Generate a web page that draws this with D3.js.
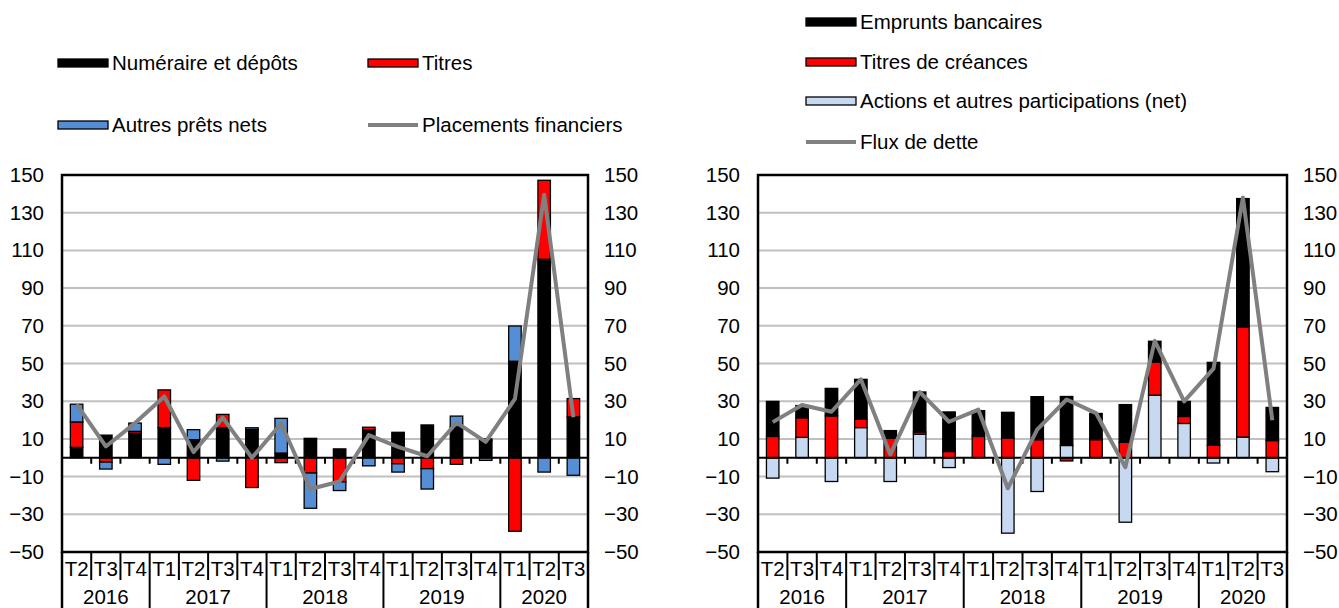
<!DOCTYPE html>
<html>
<head>
<meta charset="utf-8">
<script src="https://cdn.jsdelivr.net/npm/d3@7"></script>
<style>
  html, body { margin: 0; padding: 0; background: #fff; }
  svg { display: block; }
  text { font-family: "Liberation Sans", Arial, sans-serif; fill: #000; }
</style>
</head>
<body>
<svg id="chart" width="1339" height="608"></svg>
<script>
// Quarter labels and year groups along the category axis
const quarters = ["T2","T3","T4","T1","T2","T3","T4","T1","T2","T3","T4","T1","T2","T3","T4","T1","T2","T3"];
const years = ["2016","2017","2018","2019","2020"];
const yearSpans = [3, 4, 4, 4, 3];
const yTicks = [-50, -30, -10, 10, 30, 50, 70, 90, 110, 130, 150];

// Left panel: placements financiers
const numeraireDepots = [5.5, 12, 13, 16, 9.6, 16, 15, 2.5, 10.3, 4.7, 14.8, 13.5, 17.4, 16.4, 9, 51.2, 105.3, 21.7];
const titres = [13.5, -2.3, 1, 20, -12, 7, -15.8, -2.6, -8.1, -12.8, 1.4, -3.2, -5.8, -3.5, 1, -39, 41.9, 9.7];
const autresPrets = [9.4, -3.7, 4.4, -3.5, 5.3, -1.8, 0.9, 18.4, -18.7, -4.6, -4.3, -4.4, -10.8, 5.7, -1.4, 18.7, -7.6, -9.3];
const placementsFinanciers = [28.5, 6, 18.4, 32.5, 3, 21.3, 0, 18.2, -16.6, -12.6, 12, 5.8, 0.8, 18.6, 8.4, 31.2, 139.5, 21.5];

// Right panel: flux de dette
const empruntsBancaires = [18.6, 6.5, 14.6, 21.2, 4.1, 21.2, 21, 13.7, 13.6, 22.8, 26, 13.9, 20, 11, 8, 44, 68.1, 17.6];
const titresCreances = [11.3, 10.4, 22.2, 4.4, 10.3, 1.2, 3.3, 11.3, 10.5, 9.6, -1.7, 9.6, 8.2, 17.6, 3.7, 6.6, 58.4, 9.1];
const actionsParticipations = [-10.8, 10.8, -12.6, 16, -12.6, 12.5, -5.2, 0, -40, -17.9, 6.5, 0, -34.2, 33.2, 18.2, -2.8, 11, -7.4];
const fluxDette = [18.9, 28, 24.4, 41.6, 1.7, 34.9, 19.1, 25.5, -16.2, 14.9, 30.9, 23.7, -5.1, 62, 29.9, 47.3, 138, 19.9];

const svg = d3.select("#chart");
const plotTop = 175, plotBottom = 552, rowMid = 580, figBottom = 612;
const fs = 20.5;
const y = d3.scaleLinear().domain([-50, 150]).range([plotBottom, plotTop]);

function drawPanel(cfg) {
  const g = svg.append("g");
  const idx = d3.range(quarters.length);
  const x = d3.scaleBand().domain(idx).range([cfg.left, cfg.right]).paddingInner(0).paddingOuter(0);
  const bw = 12.5;

  // horizontal gridlines
  g.selectAll(".grid").data(yTicks.filter(t => t > -50 && t < 150)).join("line")
    .attr("x1", cfg.left).attr("x2", cfg.right)
    .attr("y1", d => y(d)).attr("y2", d => y(d))
    .attr("stroke", "#c0c0c0").attr("stroke-width", 2);

  // stacked bars
  const rows = idx.map(i => {
    const r = { i };
    cfg.series.forEach(s => { r[s.key] = s.values[i]; });
    return r;
  });
  const stack = d3.stack().keys(cfg.series.map(s => s.key)).offset(d3.stackOffsetDiverging);
  const layers = stack(rows);
  layers.forEach((layer, li) => {
    g.append("g").selectAll("rect").data(layer).join("rect")
      .attr("x", d => x(d.data.i) + x.bandwidth() / 2 - bw / 2)
      .attr("width", bw)
      .attr("y", d => y(Math.max(d[0], d[1])))
      .attr("height", d => Math.abs(y(d[0]) - y(d[1])))
      .attr("fill", cfg.series[li].color)
      .attr("stroke", "#000").attr("stroke-width", 1.3)
      .attr("display", d => Math.abs(d[1] - d[0]) < 0.01 ? "none" : null);
  });

  // zero axis with tick marks at category boundaries
  g.append("line").attr("x1", cfg.left).attr("x2", cfg.right)
    .attr("y1", y(0)).attr("y2", y(0)).attr("stroke", "#000").attr("stroke-width", 2.2);
  g.selectAll(".tick0").data(idx.slice(1)).join("line")
    .attr("x1", d => x(d)).attr("x2", d => x(d))
    .attr("y1", y(0)).attr("y2", y(0) + 6)
    .attr("stroke", "#000").attr("stroke-width", 2);

  // total line
  const line = d3.line().x((d, i) => x(i) + x.bandwidth() / 2).y(d => y(d));
  g.append("path").datum(cfg.lineValues).attr("d", line)
    .attr("fill", "none").attr("stroke", "#808080").attr("stroke-width", 4)
    .attr("stroke-linejoin", "round");

  // plot frame
  g.append("rect").attr("x", cfg.left).attr("y", plotTop)
    .attr("width", cfg.right - cfg.left).attr("height", plotBottom - plotTop)
    .attr("fill", "none").attr("stroke", "#000").attr("stroke-width", 2.5);

  // category axis grid: quarter separators and year separators
  const yearStarts = [];
  let acc = 0;
  yearSpans.forEach(n => { yearStarts.push(acc); acc += n; });
  idx.slice(1).forEach(i => {
    const isYear = yearStarts.includes(i);
    g.append("line").attr("x1", x(i)).attr("x2", x(i))
      .attr("y1", plotBottom).attr("y2", isYear ? figBottom : rowMid)
      .attr("stroke", "#000").attr("stroke-width", 2);
  });
  [cfg.left, cfg.right].forEach(xx => {
    g.append("line").attr("x1", xx).attr("x2", xx).attr("y1", plotBottom).attr("y2", figBottom)
      .attr("stroke", "#000").attr("stroke-width", 2.5);
  });

  g.selectAll(".q").data(quarters).join("text")
    .attr("x", (d, i) => x(i) + x.bandwidth() / 2).attr("y", 576)
    .attr("text-anchor", "middle").attr("font-size", fs).text(d => d);
  g.selectAll(".yr").data(years).join("text")
    .attr("x", (d, k) => {
      const s = yearStarts[k], e = s + yearSpans[k];
      return (x(s) + (e >= quarters.length ? cfg.right : x(e))) / 2;
    })
    .attr("y", 604).attr("text-anchor", "middle").attr("font-size", fs).text(d => d);

  // value axes on both sides
  const yl = d3.axisLeft(y).tickValues(yTicks).tickSize(0).tickPadding(18);
  const ga = g.append("g").attr("transform", `translate(${cfg.left},0)`).call(yl);
  const yr = d3.axisRight(y).tickValues(yTicks).tickSize(0).tickPadding(16);
  const gb = g.append("g").attr("transform", `translate(${cfg.right},0)`).call(yr);
  [ga, gb].forEach(a => {
    a.select(".domain").remove();
    a.selectAll("text").attr("font-size", fs).attr("font-family", "'Liberation Sans', Arial, sans-serif").attr("fill", "#000");
  });
}

drawPanel({
  left: 62, right: 588,
  series: [
    { key: "num", values: numeraireDepots, color: "#000000" },
    { key: "tit", values: titres, color: "#ff0000" },
    { key: "aut", values: autresPrets, color: "#558ed5" }
  ],
  lineValues: placementsFinanciers
});

drawPanel({
  left: 758, right: 1287,
  series: [
    { key: "act", values: actionsParticipations, color: "#c6d9f1" },
    { key: "tcr", values: titresCreances, color: "#ff0000" },
    { key: "emp", values: empruntsBancaires, color: "#000000" }
  ],
  lineValues: fluxDette
});

// legends
function legendItem(x0, yc, label, kind, color) {
  const g = svg.append("g");
  if (kind === "box") {
    g.append("rect").attr("x", x0).attr("y", yc - 4).attr("width", 50).attr("height", 8)
      .attr("fill", color).attr("stroke", "#000").attr("stroke-width", 1.3);
  } else {
    g.append("line").attr("x1", x0).attr("x2", x0 + 50).attr("y1", yc).attr("y2", yc)
      .attr("stroke", color).attr("stroke-width", 4);
  }
  g.append("text").attr("x", x0 + 54).attr("y", yc + 7).attr("font-size", fs).text(label);
}
legendItem(58, 63, "Numéraire et dépôts", "box", "#000000");
legendItem(368, 63, "Titres", "box", "#ff0000");
legendItem(58, 125, "Autres prêts nets", "box", "#558ed5");
legendItem(368, 125, "Placements financiers", "line", "#808080");

legendItem(806, 22, "Emprunts bancaires", "box", "#000000");
legendItem(806, 62, "Titres de créances", "box", "#ff0000");
legendItem(806, 101, "Actions et autres participations (net)", "box", "#c6d9f1");
legendItem(806, 142, "Flux de dette", "line", "#808080");
</script>
</body>
</html>
